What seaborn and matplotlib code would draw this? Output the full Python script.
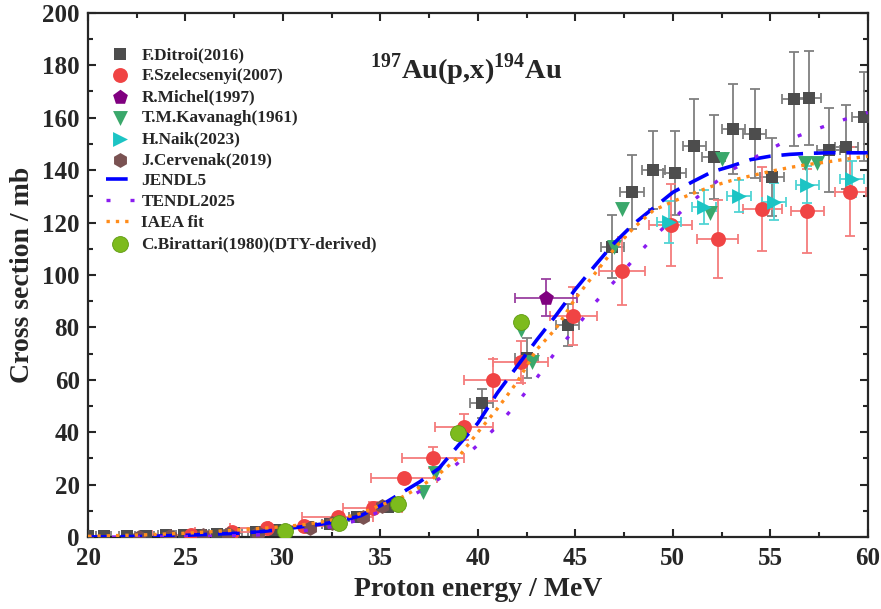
import numpy as np
import pandas as pd
import matplotlib
matplotlib.use("Agg")
import matplotlib.pyplot as plt
from matplotlib.ticker import MultipleLocator
import seaborn as sns

# ---- experimental data (energy MeV, cross section mb, errors) ----
ditroi_e = [20.0, 20.8, 22.0, 23.0, 24.0, 24.9, 25.8, 26.6, 27.5, 28.6, 29.6, 31.3, 32.4, 33.8, 35.4,
            40.2, 42.5, 44.6, 46.9, 47.9, 49.0, 50.1, 51.1, 52.1, 53.1, 54.2, 55.1, 56.2, 57.0, 58.0, 58.9, 59.8]
ditroi_xs = [0.3, 0.5, 0.5, 0.6, 0.7, 0.9, 1.0, 1.3, 1.6, 2.0, 2.8, 4.0, 5.0, 7.5, 11.5,
             51.1, 68.3, 80.9, 110.7, 131.7, 140.1, 138.9, 149.2, 145.0, 155.7, 153.8, 137.4, 167.2, 167.6, 147.7, 148.9, 160.3]
ditroi_de = [0.4] * 15 + [0.6] * 17
ditroi_dxs = [0.2, 0.2, 0.2, 0.2, 0.2, 0.2, 0.2, 0.3, 0.3, 0.3, 0.4, 0.5, 0.6, 0.8, 1.2,
              5.5, 7.5, 8.0, 12.0, 14.0, 15.0, 16.0, 18.0, 16.0, 17.0, 17.0, 15.0, 18.0, 18.0, 16.0, 16.0, 17.0]

szel_e = [25.3, 27.4, 29.2, 31.1, 32.8, 34.6, 36.2, 37.7, 39.3, 40.8, 42.2, 44.9, 47.4, 49.9, 52.3, 54.6, 56.9, 59.1]
szel_xs = [0.8, 1.9, 3.4, 4.2, 7.5, 11.3, 22.5, 30.2, 42.0, 59.9, 66.8, 84.4, 101.5, 119.1, 113.7, 125.2, 124.4, 131.7]
szel_de = [2.0, 1.9, 1.9, 1.8, 1.8, 1.5, 1.7, 1.6, 1.5, 1.5, 1.4, 1.2, 1.2, 1.1, 1.05, 1.0, 0.85, 0.8]
szel_dxs = [0.5, 0.6, 0.8, 1.0, 1.5, 2.0, 1.5, 4.0, 5.0, 8.0, 8.0, 11.0, 13.0, 15.5, 15.0, 16.0, 16.0, 17.0]

michel_e = [43.5]
michel_xs = [91.4]
michel_de = [1.6]
michel_dxs = [7.0]

kav_e = [37.2, 37.8, 42.2, 42.8, 47.0, 47.4, 51.9, 52.5, 56.8, 57.4]
kav_xs = [17.2, 24.4, 79.0, 66.8, 110.7, 125.0, 123.6, 144.3, 142.6, 142.6]

naik_e = [49.8, 51.6, 53.4, 55.2, 56.9, 59.2]
naik_xs = [120.3, 126.0, 130.2, 128.0, 134.4, 136.6]
naik_de = [0.6, 0.6, 0.6, 0.6, 0.6, 0.6]
naik_dxs = [8.0, 6.5, 6.0, 7.0, 7.0, 7.0]

cerv_e = [22.6, 24.2, 25.9, 27.2, 28.7, 31.4, 32.5, 34.1, 35.1]
cerv_xs = [0.2, 0.4, 0.8, 1.2, 1.6, 3.4, 5.3, 7.6, 11.8]

birat_e = [30.1, 32.9, 35.9, 39.0, 42.2]
birat_xs = [2.2, 5.3, 12.6, 39.7, 82.0]

# ---- evaluated curves ----
curve_e = list(range(20, 61))
jendl5 = [0.05, 0.1, 0.2, 0.3, 0.5, 0.7, 1.0, 1.3, 1.6, 2.2, 3.0, 4.0, 5.0, 6.2, 8.2, 12.0, 16.5, 21.0, 26.2, 35.0,
          43.5, 55.0, 65.0, 75.0, 84.5, 94.5, 103.5, 112.2, 119.5, 125.5, 131.5, 135.5, 139.3, 141.5, 144.0, 145.3,
          146.0, 146.4, 146.6, 146.6, 146.6]
tendl2025 = [0.0, 0.02, 0.05, 0.07, 0.1, 0.2, 0.3, 0.45, 0.6, 1.0, 1.6, 2.4, 3.4, 4.6, 6.9, 9.8, 13.2, 17.4, 22.2, 28.4,
             35.2, 42.4, 51.0, 60.5, 70.8, 79.5, 89.3, 97.5, 106.0, 114.4, 121.2, 128.1, 134.2, 140.0, 144.0, 148.0,
             151.8, 154.6, 157.3, 159.8, 162.0]
iaea_fit = [0.3, 0.5, 0.7, 0.9, 1.2, 1.5, 1.9, 2.4, 2.9, 3.4, 4.0, 4.7, 5.8, 7.2, 9.0, 12.2, 14.8, 19.0, 24.0, 30.5,
            40.0, 49.0, 59.0, 71.4, 79.5, 91.0, 100.5, 110.0, 118.0, 124.6, 128.0, 131.0, 133.8, 136.0, 137.8, 139.5,
            141.0, 142.2, 143.2, 144.3, 145.3]

legend_order = ["F.Ditroi(2016)", "F.Szelecsenyi(2007)", "R.Michel(1997)", "T.M.Kavanagh(1961)",
                "H.Naik(2023)", "J.Cervenak(2019)", "JENDL5", "TENDL2025", "IAEA fit",
                "C.Birattari(1980)(DTY-derived)"]

sns.set_style("ticks")
plt.rcParams['font.family'] = ['Liberation Serif', 'DejaVu Serif']
plt.rcParams['font.weight'] = 'bold'
plt.rcParams['mathtext.fontset'] = 'custom'
plt.rcParams['mathtext.rm'] = 'Liberation Serif:bold'
plt.rcParams['mathtext.bf'] = 'Liberation Serif:bold'

fig = plt.figure(figsize=(8.81, 6.09), dpi=100)
ax = fig.add_axes([0.0999, 0.118, 0.885, 0.861])

# error bars first
eb = dict(fmt='none', capsize=3.5, elinewidth=1.3, capthick=1.3, zorder=2)
ax.errorbar(ditroi_e, ditroi_xs, xerr=ditroi_de, yerr=ditroi_dxs, ecolor='#7f7f7f', **eb)
ax.errorbar(szel_e, szel_xs, xerr=szel_de, yerr=szel_dxs, ecolor='#f47c7c', **eb)
ax.errorbar(michel_e, michel_xs, xerr=michel_de, yerr=michel_dxs, ecolor='#9a40a0', **eb)
ax.errorbar(naik_e, naik_xs, xerr=naik_de, yerr=naik_dxs, ecolor='#50d4d4', **eb)

sc = dict(ax=ax, linewidth=0, zorder=3)
sns.scatterplot(x=ditroi_e, y=ditroi_xs, marker='s', s=85, color='#4d4d4d', label=legend_order[0], **sc)
sns.scatterplot(x=szel_e, y=szel_xs, marker='o', s=115, color='#f04444', label=legend_order[1], **sc)
sns.scatterplot(x=michel_e, y=michel_xs, marker='p', s=125, color='#800080', label=legend_order[2], **sc)
sns.scatterplot(x=kav_e, y=kav_xs, marker='v', s=115, color='#3aa86b', label=legend_order[3], **sc)
sns.scatterplot(x=naik_e, y=naik_xs, marker='>', s=115, color='#1cc4c4', label=legend_order[4], **sc)
sns.scatterplot(x=cerv_e, y=cerv_xs, marker='h', s=115, color='#7a5252', label=legend_order[5], **sc)

sns.lineplot(x=curve_e, y=jendl5, ax=ax, color='#0000ff', linewidth=2.6, label=legend_order[6], zorder=4)
ax.lines[-1].set_dashes((6, 3))
sns.lineplot(x=curve_e, y=tendl2025, ax=ax, color='#8a1cf0', linewidth=2.4, label=legend_order[7], zorder=4)
ax.lines[-1].set_dashes((1.2, 6))
sns.lineplot(x=curve_e, y=iaea_fit, ax=ax, color='#ff8c1a', linewidth=2.4, label=legend_order[8], zorder=4)
ax.lines[-1].set_dashes((1, 1.8))

sns.scatterplot(x=birat_e, y=birat_xs, marker='o', s=130, color='#7dbb1d', edgecolor='#5e9a10',
                linewidth=0.6, label=legend_order[9], ax=ax, zorder=5)

ax.set_xlim(20, 60)
ax.set_ylim(0, 200)
ax.xaxis.set_major_locator(MultipleLocator(5))
ax.xaxis.set_minor_locator(MultipleLocator(2.5))
ax.yaxis.set_major_locator(MultipleLocator(20))
ax.yaxis.set_minor_locator(MultipleLocator(10))
ax.tick_params(which='both', direction='in', top=True, right=True, width=1.5, labelsize=18)
ax.tick_params(which='major', length=6)
ax.tick_params(which='minor', length=3.5)
ax.tick_params(axis='x', pad=7)
ax.tick_params(axis='y', pad=6)
for sp in ax.spines.values():
    sp.set_linewidth(1.6)
for lab in ax.get_xticklabels() + ax.get_yticklabels():
    lab.set_fontweight('bold')

ax.set_xlabel('Proton energy / MeV', fontsize=20, fontweight='bold', labelpad=5)
ax.set_ylabel('Cross section / mb', fontsize=20, fontweight='bold', labelpad=5)

ax.text(0.485, 0.892, r'$^{197}$Au(p,x)$^{194}$Au', transform=ax.transAxes, ha='center', va='center',
        fontsize=20.5, fontweight='bold')

handles, labels = ax.get_legend_handles_labels()
hmap = dict(zip(labels, handles))
ax.legend([hmap[k] for k in legend_order], legend_order, loc='upper left', bbox_to_anchor=(0.023, 0.935),
          frameon=False, prop={'family': 'Liberation Serif', 'weight': 'bold', 'size': 12.4},
          labelspacing=0.29, handlelength=1.6, handletextpad=0.45, borderpad=0, borderaxespad=0)

fig.savefig('out.png', dpi=100)
